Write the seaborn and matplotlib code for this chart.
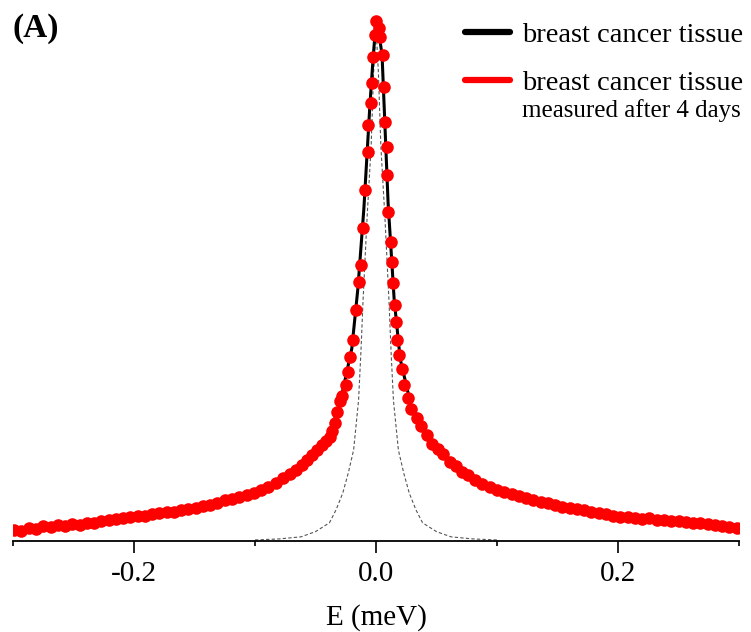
import numpy as np
import matplotlib
matplotlib.use("Agg")
import matplotlib.pyplot as plt
import seaborn as sns
from matplotlib.lines import Line2D
from matplotlib.ticker import MultipleLocator

# --- DATA ---
# measured spectrum, energy transfer in meV / normalised intensity
data_E = [-0.299, -0.293, -0.287, -0.281, -0.275, -0.269, -0.263, -0.257, -0.251, -0.245,
          -0.239, -0.233, -0.227, -0.221, -0.215, -0.209, -0.203, -0.197, -0.191, -0.185,
          -0.179, -0.173, -0.167, -0.161, -0.155, -0.149, -0.143, -0.137, -0.131, -0.125,
          -0.119, -0.113, -0.107, -0.101, -0.095, -0.089, -0.083, -0.077, -0.071, -0.066,
          -0.061, -0.057, -0.053, -0.049, -0.045, -0.041, -0.038, -0.036, -0.0342, -0.032,
          -0.0301, -0.028, -0.0251, -0.0235, -0.0218, -0.0194, -0.0169, -0.0144, -0.0128, -0.0111,
          -0.0095, -0.0070, -0.0062, -0.0045, -0.0029, -0.0021, -0.0008, 0.0004, 0.0021, 0.0037,
          0.0054, 0.0062, 0.0078, 0.0087, 0.0095, 0.0103, 0.0120, 0.0136, 0.0144, 0.0153,
          0.0169, 0.0177, 0.0194, 0.0215, 0.0235, 0.0265, 0.0293, 0.0335, 0.0375, 0.0420,
          0.0466, 0.051, 0.055, 0.0614, 0.066, 0.0713, 0.076, 0.082, 0.088, 0.094,
          0.100, 0.106, 0.112, 0.118, 0.124, 0.130, 0.136, 0.142, 0.148, 0.154,
          0.160, 0.166, 0.172, 0.178, 0.184, 0.190, 0.196, 0.202, 0.208, 0.214,
          0.220, 0.226, 0.232, 0.238, 0.244, 0.250, 0.256, 0.262, 0.268, 0.274,
          0.280, 0.286, 0.292, 0.298]
data_I = [0.022, 0.020, 0.025, 0.023, 0.028, 0.026, 0.030, 0.029, 0.033, 0.031,
          0.035, 0.034, 0.038, 0.040, 0.042, 0.045, 0.046, 0.049, 0.048, 0.052,
          0.053, 0.056, 0.055, 0.059, 0.062, 0.063, 0.067, 0.070, 0.073, 0.078,
          0.080, 0.085, 0.088, 0.093, 0.099, 0.104, 0.112, 0.121, 0.128, 0.137,
          0.146, 0.155, 0.166, 0.175, 0.185, 0.193, 0.200, 0.212, 0.227, 0.248,
          0.269, 0.279, 0.300, 0.325, 0.354, 0.387, 0.444, 0.498, 0.531, 0.602,
          0.675, 0.748, 0.800, 0.842, 0.881, 0.931, 0.973, 1.000, 0.987, 0.969,
          0.935, 0.873, 0.806, 0.758, 0.704, 0.633, 0.575, 0.537, 0.496, 0.454,
          0.421, 0.387, 0.358, 0.330, 0.300, 0.275, 0.254, 0.237, 0.221, 0.203,
          0.187, 0.177, 0.168, 0.152, 0.145, 0.133, 0.126, 0.117, 0.110, 0.104,
          0.099, 0.094, 0.090, 0.086, 0.083, 0.079, 0.075, 0.073, 0.069, 0.066,
          0.064, 0.061, 0.060, 0.056, 0.053, 0.051, 0.048, 0.047, 0.046, 0.045,
          0.043, 0.044, 0.041, 0.040, 0.038, 0.039, 0.036, 0.035, 0.034, 0.032,
          0.031, 0.028, 0.027, 0.025]

# fitted curve (black)
fit_E = [-0.30, -0.25, -0.20, -0.15, -0.125, -0.10, -0.08, -0.06, -0.05, -0.04,
         -0.03, -0.02, -0.015, -0.01, -0.005, -0.0025, 0.0, 0.0025, 0.005, 0.01,
         0.015, 0.02, 0.03, 0.04, 0.05, 0.06, 0.08, 0.10, 0.125, 0.15,
         0.20, 0.25, 0.30]
fit_I = [0.023, 0.032, 0.046, 0.064, 0.078, 0.093, 0.116, 0.148, 0.170, 0.196,
         0.262, 0.370, 0.485, 0.640, 0.840, 0.925, 1.000, 0.975, 0.935, 0.650,
         0.465, 0.350, 0.250, 0.210, 0.178, 0.155, 0.118, 0.098, 0.082, 0.068,
         0.047, 0.038, 0.025]

# resolution function (grey dashed)
res_E = [-0.100, -0.080, -0.062, -0.050, -0.0385, -0.033, -0.0275, -0.023, -0.0185, -0.0144,
         -0.0124, -0.0107, -0.0074, -0.004, -0.002, 0.0, 0.002, 0.004, 0.0074, 0.0107,
         0.0124, 0.0144, 0.0185, 0.023, 0.0275, 0.033, 0.0385, 0.050, 0.062, 0.080, 0.100]
res_I = [0.002, 0.004, 0.008, 0.018, 0.035, 0.060, 0.092, 0.130, 0.175, 0.271,
         0.367, 0.463, 0.621, 0.760, 0.900, 0.990, 0.900, 0.760, 0.621, 0.463,
         0.367, 0.271, 0.175, 0.130, 0.092, 0.060, 0.035, 0.018, 0.008, 0.004, 0.002]

label_1 = "breast cancer tissue"
label_2 = "breast cancer tissue"
label_2b = "measured after 4 days"

# --- PLOT ---
sns.set_style("white")
plt.rcParams['font.family'] = ['Liberation Serif', 'DejaVu Serif']
plt.rcParams['text.color'] = 'black'
plt.rcParams['axes.labelcolor'] = 'black'
plt.rcParams['xtick.color'] = 'black'

W, H = 751, 632
fig = plt.figure(figsize=(W / 100, H / 100), dpi=100)
ax = fig.add_axes([13 / W, 91 / H, 726 / W, 530.4 / H])

sns.lineplot(x=res_E, y=res_I, ax=ax, color="#555555", lw=0.8,
             linestyle=(0, (3, 2)), estimator=None, sort=False)
sns.lineplot(x=fit_E, y=fit_I, ax=ax, color="black", lw=2.2, estimator=None, sort=False)
sns.scatterplot(x=data_E, y=data_I, ax=ax, color="red", s=82, linewidth=0, zorder=3)

ax.set_xlim(-0.3, 0.3)
ax.set_ylim(0, 1.02)
ax.set_yticks([])
ax.xaxis.set_major_locator(MultipleLocator(0.2))
ax.xaxis.set_minor_locator(MultipleLocator(0.1))
ax.set_xticks([-0.2, 0.0, 0.2])
ax.set_xticklabels(["-0.2", "0.0", "0.2"])
ax.tick_params(axis="x", which="major", direction="out", length=8.5, width=1.2,
               labelsize=21, pad=6, bottom=True, color="black", labelcolor="black")
ax.tick_params(axis="x", which="minor", direction="out", length=3.8, width=1.2,
               bottom=True, color="black")
ax.set_xlabel("E (meV)", fontsize=21, labelpad=12, color="black")
for side in ["left", "right", "top"]:
    ax.spines[side].set_visible(False)
ax.spines["bottom"].set_linewidth(1.3)
ax.spines["bottom"].set_color("black")

handles = [Line2D([], [], color="black", lw=4.5), Line2D([], [], color="red", lw=4.5)]
leg = ax.legend(handles, [label_1, label_2], loc="upper left", frameon=False,
                bbox_to_anchor=(465 / W, 1 - 22 / H), bbox_transform=fig.transFigure,
                fontsize=20.5, handlelength=1.58, handletextpad=0.42, labelspacing=0.77,
                borderaxespad=0, borderpad=0)
for t in leg.get_texts():
    t.set_color("black")
fig.text(522 / W, 1 - 117 / H, label_2b, fontsize=18, va="baseline", ha="left", color="black")

fig.text(12 / W, 1 - 37 / H, "(A)", fontsize=24, fontweight="bold", va="baseline",
         ha="left", color="black")

fig.savefig("out.png", dpi=100)
